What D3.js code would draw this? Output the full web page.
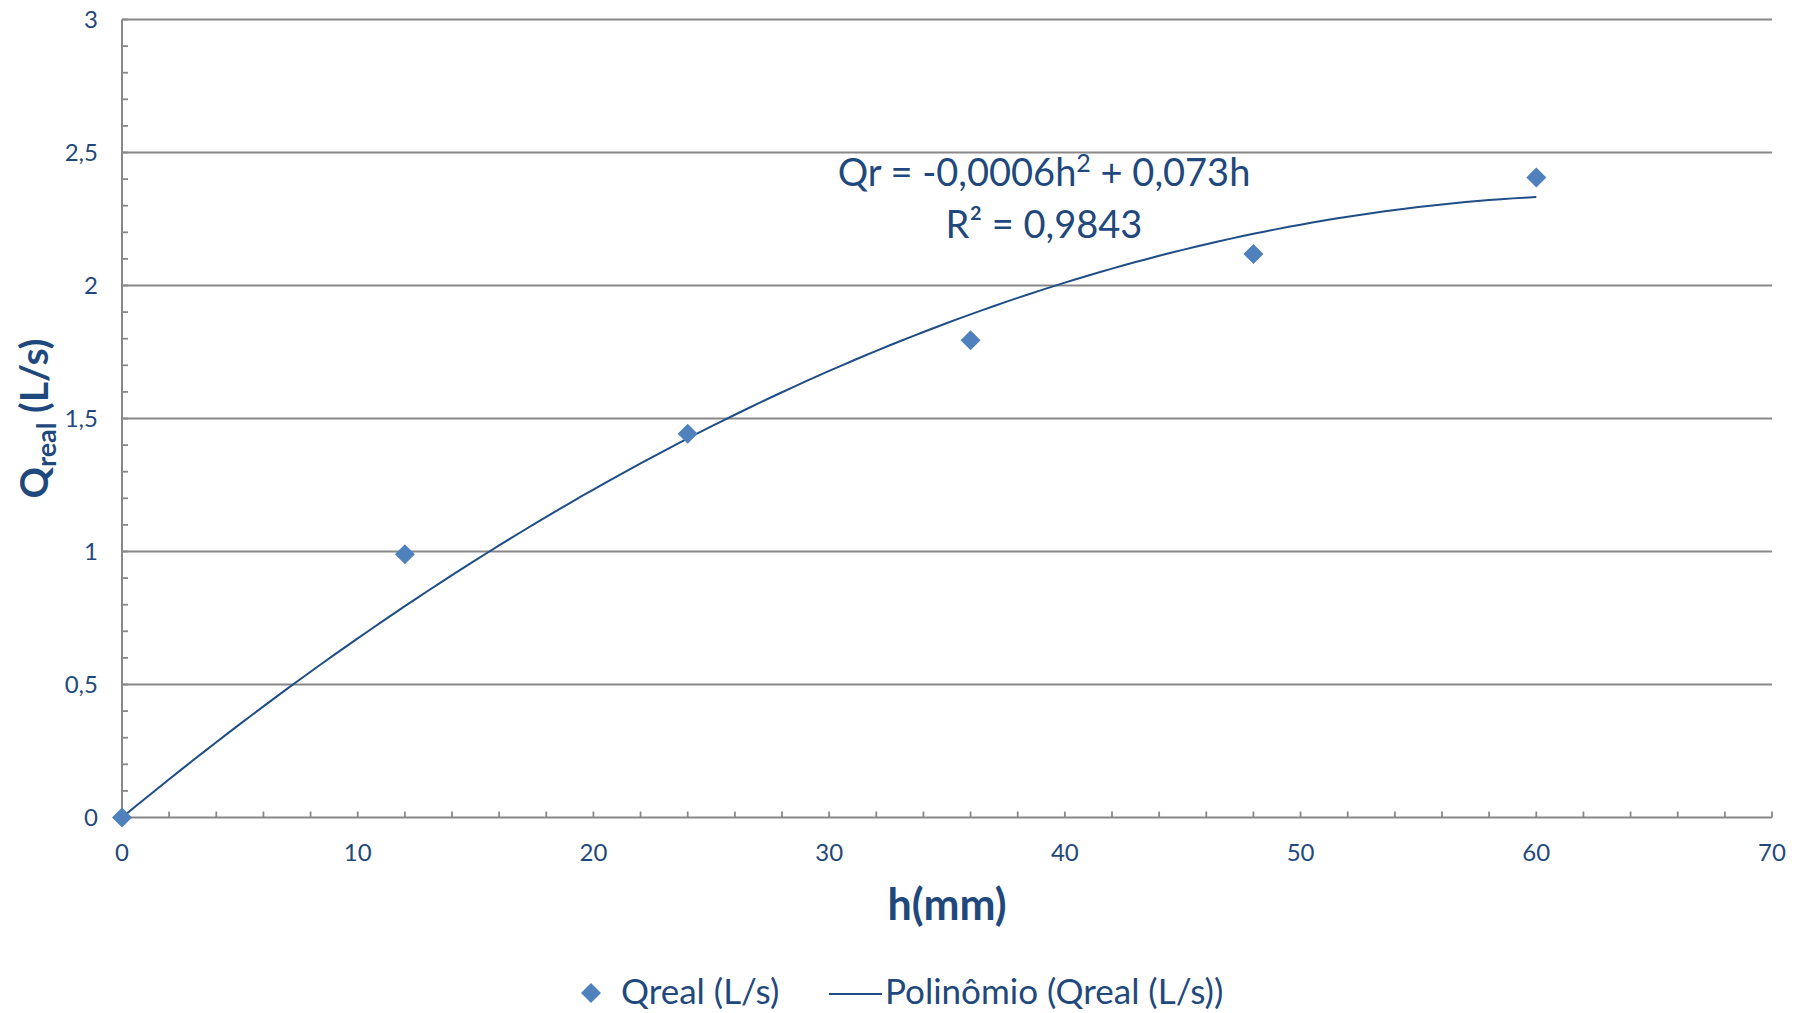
<!DOCTYPE html>
<html><head><meta charset="utf-8">
<script src="https://cdn.jsdelivr.net/npm/d3@7"></script>
<style>
html,body{margin:0;padding:0;background:#fff;}
svg{display:block;font-family:Lato,"Open Sans",sans-serif;}
</style></head>
<body>
<svg id="c" width="1808" height="1013"></svg>
<script>
// ---- data ----
const hValues = [0, 12, 24, 36, 48, 60];
const qValues = [0, 0.99, 1.443, 1.794, 2.118, 2.406];
const yTickValues = [0, 0.5, 1, 1.5, 2, 2.5, 3];
const yTickLabels = ["0", "0,5", "1", "1,5", "2", "2,5", "3"];
const xTickValues = [0, 10, 20, 30, 40, 50, 60, 70];
const xTickLabels = ["0", "10", "20", "30", "40", "50", "60", "70"];
const seriesName = "Qreal (L/s)";
const trendName = "Polinômio (Qreal (L/s))";
const eqLine1 = ["Qr = -0,0006h", "2", " + 0,073h"];
const eqLine2 = "R² = 0,9843";

// ---- layout ----
const svg = d3.select("#c");
const L = 122, R = 1772, T = 19.5, B = 817.5;
const textCol = "#1F497D", gridCol = "#888888", markCol = "#4F81BD", lineCol = "#1F4E87";
const x = d3.scaleLinear().domain([0, 70]).range([L, R]);
const y = d3.scaleLinear().domain([0, 3]).range([B, T]);

// gridlines
svg.append("g").selectAll("line").data(yTickValues.filter(v => v > 0)).join("line")
  .attr("x1", L).attr("x2", R).attr("y1", d => y(d)).attr("y2", d => y(d))
  .attr("stroke", gridCol).attr("stroke-width", 1.8);

// minor ticks y (inside, to the right)
svg.append("g").selectAll("line").data(d3.range(0, 30.5, 1).map(i => i / 10)).join("line")
  .attr("x1", L).attr("x2", L + 6).attr("y1", d => y(d)).attr("y2", d => y(d))
  .attr("stroke", gridCol).attr("stroke-width", 1.8);
// minor ticks x (upward)
svg.append("g").selectAll("line").data(d3.range(0, 71, 2)).join("line")
  .attr("x1", d => x(d)).attr("x2", d => x(d)).attr("y1", B).attr("y2", B - 6)
  .attr("stroke", gridCol).attr("stroke-width", 1.8);

// axes lines
svg.append("line").attr("x1", L).attr("x2", L).attr("y1", T).attr("y2", B)
  .attr("stroke", gridCol).attr("stroke-width", 2);
svg.append("line").attr("x1", L).attr("x2", R).attr("y1", B).attr("y2", B)
  .attr("stroke", gridCol).attr("stroke-width", 2);

// tick labels
svg.append("g").selectAll("text").data(yTickValues).join("text")
  .attr("x", 98).attr("y", d => y(d)).attr("dy", "0.35em")
  .attr("text-anchor", "end").attr("font-size", 24).attr("fill", textCol)
  .text((d, i) => yTickLabels[i]);
svg.append("g").selectAll("text").data(xTickValues).join("text")
  .attr("x", d => x(d)).attr("y", 853).attr("dy", "0.35em")
  .attr("text-anchor", "middle").attr("font-size", 24).attr("fill", textCol)
  .text((d, i) => xTickLabels[i]);

// axis titles
svg.append("text").attr("x", (L + R) / 2).attr("y", 920).attr("text-anchor", "middle")
  .attr("font-size", 43).attr("font-weight", "bold").attr("fill", textCol).text("h(mm)");
const yt = svg.append("text").attr("transform", `translate(48,${(T + B) / 2}) rotate(-90)`)
  .attr("text-anchor", "middle").attr("font-size", 39).attr("font-weight", "bold").attr("fill", textCol);
yt.append("tspan").text("Q");
yt.append("tspan").attr("font-size", 27).attr("dy", 8).text("real");
yt.append("tspan").attr("dy", -8).text(" (L/s)");

// least-squares fit Q = a h^2 + b h (through origin), from the data
let s4 = 0, s3 = 0, s2 = 0, s2q = 0, s1q = 0;
hValues.forEach((h, i) => { const q = qValues[i];
  s4 += h ** 4; s3 += h ** 3; s2 += h ** 2; s2q += h * h * q; s1q += h * q; });
const det = s4 * s2 - s3 * s3;
const a = (s2q * s2 - s3 * s1q) / det;
const b = (s4 * s1q - s3 * s2q) / det;
const hs = d3.range(0, 60.001, 0.5);
svg.append("path").datum(hs)
  .attr("d", d3.line().x(h => x(h)).y(h => y(a * h * h + b * h)))
  .attr("fill", "none").attr("stroke", lineCol).attr("stroke-width", 2);

// markers
const diamond = d3.symbol().type(d3.symbolSquare).size(200);
svg.append("g").selectAll("path").data(hValues).join("path")
  .attr("d", diamond)
  .attr("transform", (d, i) => `translate(${x(d)},${y(qValues[i])}) rotate(45)`)
  .attr("fill", markCol);

// equation label
const e1 = svg.append("text").attr("x", 1044).attr("y", 186).attr("text-anchor", "middle")
  .attr("font-size", 38).attr("fill", textCol);
e1.append("tspan").text(eqLine1[0]);
e1.append("tspan").attr("font-size", 25).attr("dy", -14).text(eqLine1[1]);
e1.append("tspan").attr("dy", 14).text(eqLine1[2]);
svg.append("text").attr("x", 1044).attr("y", 238).attr("text-anchor", "middle")
  .attr("font-size", 38).attr("fill", textCol).text(eqLine2);

// legend
svg.append("path").attr("d", diamond).attr("transform", "translate(591,993) rotate(45)").attr("fill", markCol);
svg.append("text").attr("x", 621).attr("y", 1004).attr("font-size", 35).attr("fill", textCol).text(seriesName);
svg.append("line").attr("x1", 829).attr("x2", 882).attr("y1", 994).attr("y2", 994)
  .attr("stroke", lineCol).attr("stroke-width", 2);
svg.append("text").attr("x", 885).attr("y", 1004).attr("font-size", 35).attr("fill", textCol).text(trendName);
</script>
</body></html>
